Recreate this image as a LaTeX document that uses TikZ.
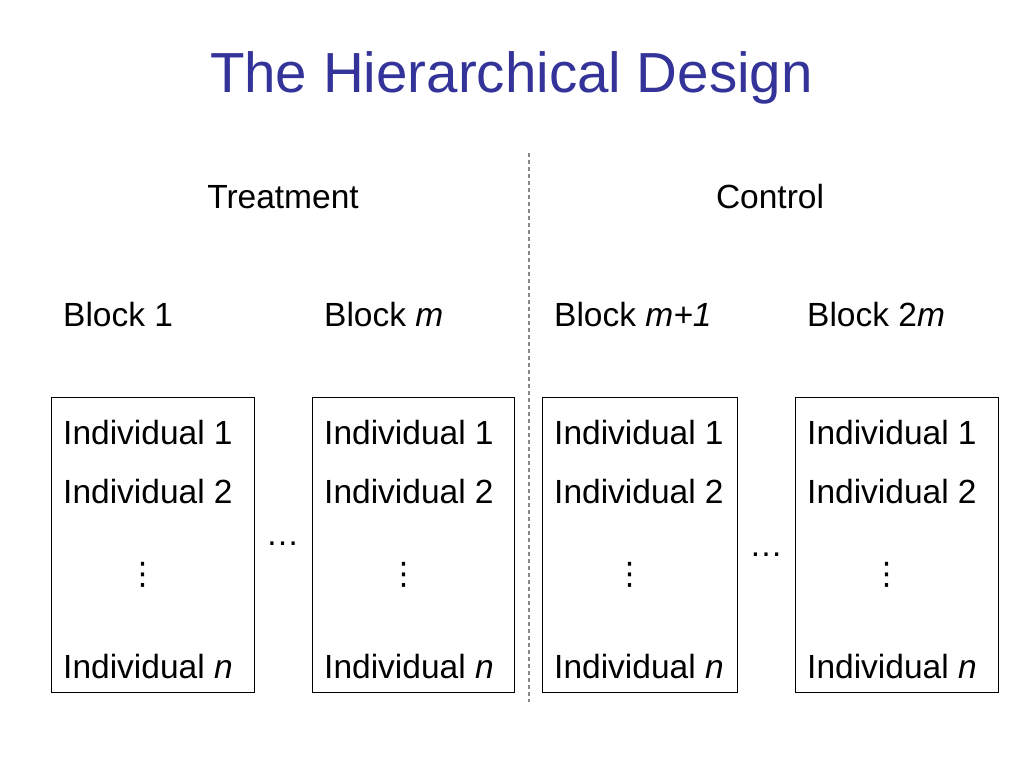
\documentclass[tikz,border=0pt]{standalone}
\usepackage{fontspec}
\setmainfont{Liberation Sans}
\newfontfamily\symfont{DejaVu Sans}
\definecolor{titleblue}{HTML}{333399}
\definecolor{sepgray}{HTML}{888888}
\begin{document}
\begin{tikzpicture}[x=1pt,y=-1pt,
  txt/.style={font=\fontsize{33.5}{40}\selectfont, inner sep=0pt, anchor=base west},
  head/.style={font=\fontsize{33.5}{40}\selectfont, inner sep=0pt, anchor=base},
  box/.style={draw=black, line width=1pt, inner sep=0pt, minimum height=295pt},
  vdot/.style={font=\symfont\fontsize{31}{36}\selectfont, inner sep=0pt, anchor=center},
  hdots/.style={font=\fontsize{33.5}{40}\selectfont, inner sep=0pt, anchor=base},
  sep/.style={draw=sepgray, line width=1.5pt, dash pattern=on 4pt off 3pt}]
\useasboundingbox (0,0) rectangle (1024,768);
\fill[white] (0,0) rectangle (1024,768);
% title
\node[font=\fontsize{56.5}{64}\selectfont, text=titleblue, inner sep=0pt, anchor=base] (title) at (511.5,92) {The Hierarchical Design};
% separator
\coordinate (septop) at (529,153);
\coordinate (sepbot) at (529,702);
\draw[sep] (septop) -- (sepbot);
% group headings
\node[head] (treat) at (283,208) {Treatment};
\node[head] (ctrl) at (770,208) {Control};
% block labels
\node[txt] (bl1) at (63,326) {Block 1};
\node[txt] (bl2) at (324,326) {Block \textit{m}};
\node[txt] (bl3) at (554,326) {Block \textit{m+1}};
\node[txt] (bl4) at (807,326) {Block 2\textit{m}};
% boxes
\node[box, minimum width=203pt] (b1) at (152.5,544.5) {};
\node[box, minimum width=202pt] (b2) at (413,544.5) {};
\node[box, minimum width=195pt] (b3) at (639.5,544.5) {};
\node[box, minimum width=203pt] (b4) at (896.5,544.5) {};
% individuals
\foreach \bx/\lx/\vx in {1/63/143, 2/324/403.5, 3/554/630, 4/807/887}{
  \node[txt] (i1-\bx) at (\lx,444) {Individual 1};
  \node[txt] (i2-\bx) at (\lx,503) {Individual 2};
  \node[vdot] (v-\bx) at (\vx,574.5) {⋮};
  \node[txt] (in-\bx) at (\lx,678) {Individual \textit{n}};
}
% horizontal ellipses
\node[hdots] (e1) at (282.5,545) {…};
\node[hdots] (e2) at (766,556) {…};
\end{tikzpicture}
\end{document}
